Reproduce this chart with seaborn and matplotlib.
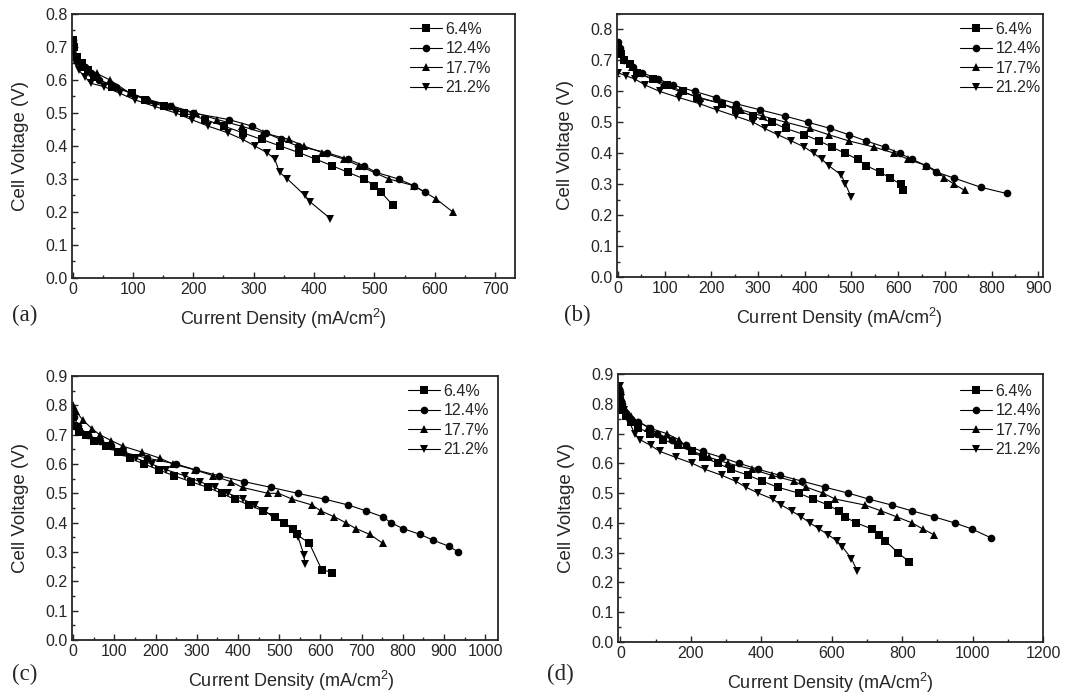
import pandas as pd
import seaborn as sns
import matplotlib.pyplot as plt
from matplotlib.ticker import MultipleLocator, FormatStrFormatter

labels = ["6.4%", "12.4%", "17.7%", "21.2%"]
markers = ["s", "o", "^", "v"]

# panel (a)
a_64_x = [0, 3, 8, 15, 25, 35, 65, 98, 120, 151, 185, 220, 251, 282, 313, 344, 375, 403, 430, 457, 483, 500, 511, 531]
a_64_y = [0.72, 0.70, 0.67, 0.65, 0.63, 0.61, 0.58, 0.56, 0.54, 0.52, 0.50, 0.48, 0.46, 0.44, 0.42, 0.40, 0.38, 0.36, 0.34, 0.32, 0.30, 0.28, 0.26, 0.22]
a_124_x = [0, 5, 12, 20, 30, 44, 72, 97, 124, 161, 199, 259, 298, 320, 345, 373, 421, 456, 483, 503, 540, 565, 584]
a_124_y = [0.72, 0.67, 0.65, 0.64, 0.62, 0.60, 0.58, 0.56, 0.54, 0.52, 0.50, 0.48, 0.46, 0.44, 0.42, 0.40, 0.38, 0.36, 0.34, 0.32, 0.30, 0.28, 0.26]
a_177_x = [0, 8, 18, 26, 40, 62, 95, 127, 167, 204, 240, 280, 316, 358, 383, 414, 450, 475, 524, 565, 602, 630]
a_177_y = [0.70, 0.66, 0.64, 0.63, 0.62, 0.60, 0.56, 0.54, 0.52, 0.50, 0.48, 0.46, 0.44, 0.42, 0.40, 0.38, 0.36, 0.34, 0.30, 0.28, 0.24, 0.20]
a_212_x = [0, 5, 10, 20, 30, 52, 78, 103, 136, 171, 197, 225, 257, 282, 302, 322, 335, 343, 356, 385, 394, 427]
a_212_y = [0.68, 0.65, 0.63, 0.61, 0.59, 0.58, 0.56, 0.54, 0.52, 0.50, 0.48, 0.46, 0.44, 0.42, 0.40, 0.38, 0.36, 0.32, 0.30, 0.25, 0.23, 0.18]

# panel (b)
b_64_x = [0, 7, 14, 25, 40, 75, 105, 139, 170, 223, 253, 289, 330, 360, 399, 431, 458, 486, 514, 531, 560, 583, 605, 611]
b_64_y = [0.75, 0.72, 0.70, 0.69, 0.66, 0.64, 0.62, 0.60, 0.58, 0.56, 0.54, 0.52, 0.50, 0.48, 0.46, 0.44, 0.42, 0.40, 0.38, 0.36, 0.34, 0.32, 0.30, 0.28]
b_124_x = [0, 4, 14, 32, 52, 86, 118, 164, 209, 253, 305, 358, 407, 455, 494, 531, 571, 603, 630, 660, 680, 719, 777, 832]
b_124_y = [0.76, 0.74, 0.70, 0.68, 0.66, 0.64, 0.62, 0.60, 0.58, 0.56, 0.54, 0.52, 0.50, 0.48, 0.46, 0.44, 0.42, 0.40, 0.38, 0.36, 0.34, 0.32, 0.29, 0.27]
b_177_x = [0, 15, 30, 46, 96, 132, 175, 221, 264, 310, 360, 411, 451, 494, 548, 592, 622, 660, 686, 699, 720, 742]
b_177_y = [0.74, 0.70, 0.68, 0.66, 0.62, 0.60, 0.58, 0.56, 0.54, 0.52, 0.50, 0.48, 0.46, 0.44, 0.42, 0.40, 0.38, 0.36, 0.34, 0.32, 0.30, 0.28]
b_212_x = [0, 18, 36, 59, 89, 130, 175, 212, 252, 290, 314, 342, 371, 399, 419, 437, 451, 478, 487, 499]
b_212_y = [0.66, 0.65, 0.64, 0.62, 0.60, 0.58, 0.56, 0.54, 0.52, 0.50, 0.48, 0.46, 0.44, 0.42, 0.40, 0.38, 0.36, 0.33, 0.30, 0.26]

# panel (c)
c_64_x = [0, 3, 15, 30, 50, 80, 108, 137, 172, 208, 244, 285, 327, 360, 392, 427, 461, 489, 511, 534, 542, 573, 603, 629]
c_64_y = [0.76, 0.73, 0.71, 0.70, 0.68, 0.66, 0.64, 0.62, 0.60, 0.58, 0.56, 0.54, 0.52, 0.50, 0.48, 0.46, 0.44, 0.42, 0.40, 0.38, 0.36, 0.33, 0.24, 0.23]
c_124_x = [0, 3, 11, 36, 64, 92, 121, 180, 250, 297, 354, 414, 481, 545, 611, 668, 711, 751, 771, 800, 842, 874, 911, 935]
c_124_y = [0.78, 0.76, 0.73, 0.70, 0.68, 0.66, 0.64, 0.62, 0.60, 0.58, 0.56, 0.54, 0.52, 0.50, 0.48, 0.46, 0.44, 0.42, 0.40, 0.38, 0.36, 0.34, 0.32, 0.30]
c_177_x = [0, 7, 23, 46, 64, 92, 122, 168, 210, 242, 295, 340, 382, 411, 473, 498, 532, 580, 601, 634, 661, 686, 720, 751]
c_177_y = [0.80, 0.78, 0.75, 0.72, 0.70, 0.68, 0.66, 0.64, 0.62, 0.60, 0.58, 0.56, 0.54, 0.52, 0.50, 0.50, 0.48, 0.46, 0.44, 0.42, 0.40, 0.38, 0.36, 0.33]
c_212_x = [0, 7, 32, 56, 88, 121, 152, 190, 226, 271, 307, 343, 376, 412, 441, 465, 486, 510, 530, 546, 560, 562]
c_212_y = [0.75, 0.72, 0.70, 0.68, 0.66, 0.64, 0.62, 0.60, 0.58, 0.56, 0.54, 0.52, 0.50, 0.48, 0.46, 0.44, 0.42, 0.40, 0.38, 0.35, 0.29, 0.26]

# panel (d)
d_64_x = [0, 5, 15, 30, 50, 85, 120, 164, 202, 235, 277, 313, 363, 403, 446, 506, 547, 590, 620, 637, 670, 713, 734, 752, 788, 819]
d_64_y = [0.81, 0.78, 0.76, 0.74, 0.72, 0.70, 0.68, 0.66, 0.64, 0.62, 0.60, 0.58, 0.56, 0.54, 0.52, 0.50, 0.48, 0.46, 0.44, 0.42, 0.40, 0.38, 0.36, 0.34, 0.30, 0.27]
d_124_x = [0, 5, 15, 30, 50, 83, 105, 145, 187, 233, 287, 337, 391, 452, 516, 580, 647, 705, 770, 829, 891, 949, 997, 1052]
d_124_y = [0.84, 0.80, 0.77, 0.75, 0.74, 0.72, 0.70, 0.68, 0.66, 0.64, 0.62, 0.60, 0.58, 0.56, 0.54, 0.52, 0.50, 0.48, 0.46, 0.44, 0.42, 0.40, 0.38, 0.35]
d_177_x = [0, 5, 15, 30, 50, 79, 131, 165, 185, 206, 252, 306, 374, 429, 492, 528, 575, 610, 694, 741, 785, 828, 858, 891]
d_177_y = [0.86, 0.82, 0.78, 0.76, 0.74, 0.72, 0.70, 0.68, 0.66, 0.64, 0.62, 0.60, 0.58, 0.56, 0.54, 0.52, 0.50, 0.48, 0.46, 0.44, 0.42, 0.40, 0.38, 0.36]
d_212_x = [0, 2, 10, 25, 40, 55, 86, 112, 157, 204, 240, 287, 327, 356, 391, 432, 457, 486, 514, 538, 564, 590, 614, 630, 656, 672]
d_212_y = [0.86, 0.82, 0.78, 0.74, 0.70, 0.68, 0.66, 0.64, 0.62, 0.60, 0.58, 0.56, 0.54, 0.52, 0.50, 0.48, 0.46, 0.44, 0.42, 0.40, 0.38, 0.36, 0.34, 0.32, 0.28, 0.24]

sns.set_style("ticks", {"xtick.direction": "in", "ytick.direction": "in"})
plt.rcParams["font.family"] = ["Liberation Sans", "DejaVu Sans"]
plt.rcParams["mathtext.fontset"] = "custom"
plt.rcParams["mathtext.rm"] = "Liberation Sans"
plt.rcParams["mathtext.it"] = "Liberation Sans:italic"

W, H = 1076, 694
fig = plt.figure(figsize=(W / 100, H / 100), dpi=100)

panels = [
    dict(tag="(a)", series=[(a_64_x, a_64_y), (a_124_x, a_124_y), (a_177_x, a_177_y), (a_212_x, a_212_y)],
         box=(72, 14, 515, 278), xlim=(-1, 733), xmax=700, xstep=100, xminor=50, ylim=(0, 0.8),
         tagpos=(12, 315), leg_gap=(24, 8), xlab_shift=-10),
    dict(tag="(b)", series=[(b_64_x, b_64_y), (b_124_x, b_124_y), (b_177_x, b_177_y), (b_212_x, b_212_y)],
         box=(617, 14, 1043, 277), xlim=(-2, 910), xmax=900, xstep=100, xminor=50, ylim=(0, 0.85),
         tagpos=(564, 315), leg_gap=(2, 8), xlab_shift=9),
    dict(tag="(c)", series=[(c_64_x, c_64_y), (c_124_x, c_124_y), (c_177_x, c_177_y), (c_212_x, c_212_y)],
         box=(72, 376, 498, 640), xlim=(-3, 1031), xmax=1000, xstep=100, xminor=50, ylim=(0, 0.9),
         tagpos=(12, 674), leg_gap=(9, 8), xlab_shift=6),
    dict(tag="(d)", series=[(d_64_x, d_64_y), (d_124_x, d_124_y), (d_177_x, d_177_y), (d_212_x, d_212_y)],
         box=(618, 374, 1043, 642), xlim=(-7, 1200), xmax=1200, xstep=200, xminor=100, ylim=(0, 0.9),
         tagpos=(547, 674), leg_gap=(2, 10), xlab_shift=0),
]

for p in panels:
    x0, y0, x1, y1 = p["box"]
    ax = fig.add_axes([x0 / W, 1 - y1 / H, (x1 - x0) / W, (y1 - y0) / H])
    for (xs, ys), lab, m in zip(p["series"], labels, markers):
        df = pd.DataFrame({"x": xs, "y": ys})
        sns.lineplot(data=df, x="x", y="y", ax=ax, color="black", lw=0.8,
                     marker=m, markersize=6 if m in "^v" else 5.5, markeredgewidth=0,
                     estimator=None, sort=False, label=lab)
    ax.set_xlim(*p["xlim"])
    ax.set_ylim(*p["ylim"])
    ax.set_xticks(range(0, p["xmax"] + 1, p["xstep"]))
    ax.xaxis.set_minor_locator(MultipleLocator(p["xminor"]))
    ax.set_yticks([i / 10 for i in range(int(p["ylim"][1] * 10 + 0.01) + 1)])
    ax.yaxis.set_minor_locator(MultipleLocator(0.05))
    ax.yaxis.set_major_formatter(FormatStrFormatter("%.1f"))
    ax.tick_params(which="both", direction="in", top=False, right=False, labelsize=11.5, pad=3, width=1)
    ax.tick_params(which="major", length=4)
    ax.tick_params(which="minor", length=2.5)
    for s in ax.spines.values():
        s.set_linewidth(1.3)
    ax.set_xlabel("Current Density (mA/cm$^{2}$)", fontsize=13, labelpad=7)
    ax.xaxis.label.set_x(0.5 + p["xlab_shift"] / (x1 - x0))
    ax.set_ylabel("Cell Voltage (V)", fontsize=13.5, labelpad=12)
    gx, gy = p["leg_gap"]
    sns.move_legend(ax, "upper right", bbox_to_anchor=(1 - gx / (x1 - x0), 1 - gy / (y1 - y0)),
                    frameon=False, fontsize=11.5, handlelength=2.0, handletextpad=0.25,
                    labelspacing=0.28, borderpad=0, borderaxespad=0, title=None)
    fig.text(p["tagpos"][0] / W, 1 - p["tagpos"][1] / H, p["tag"], fontsize=16.5,
             family=["Liberation Serif", "DejaVu Serif"], va="center", ha="left")

fig.savefig("out.png", dpi=100)
